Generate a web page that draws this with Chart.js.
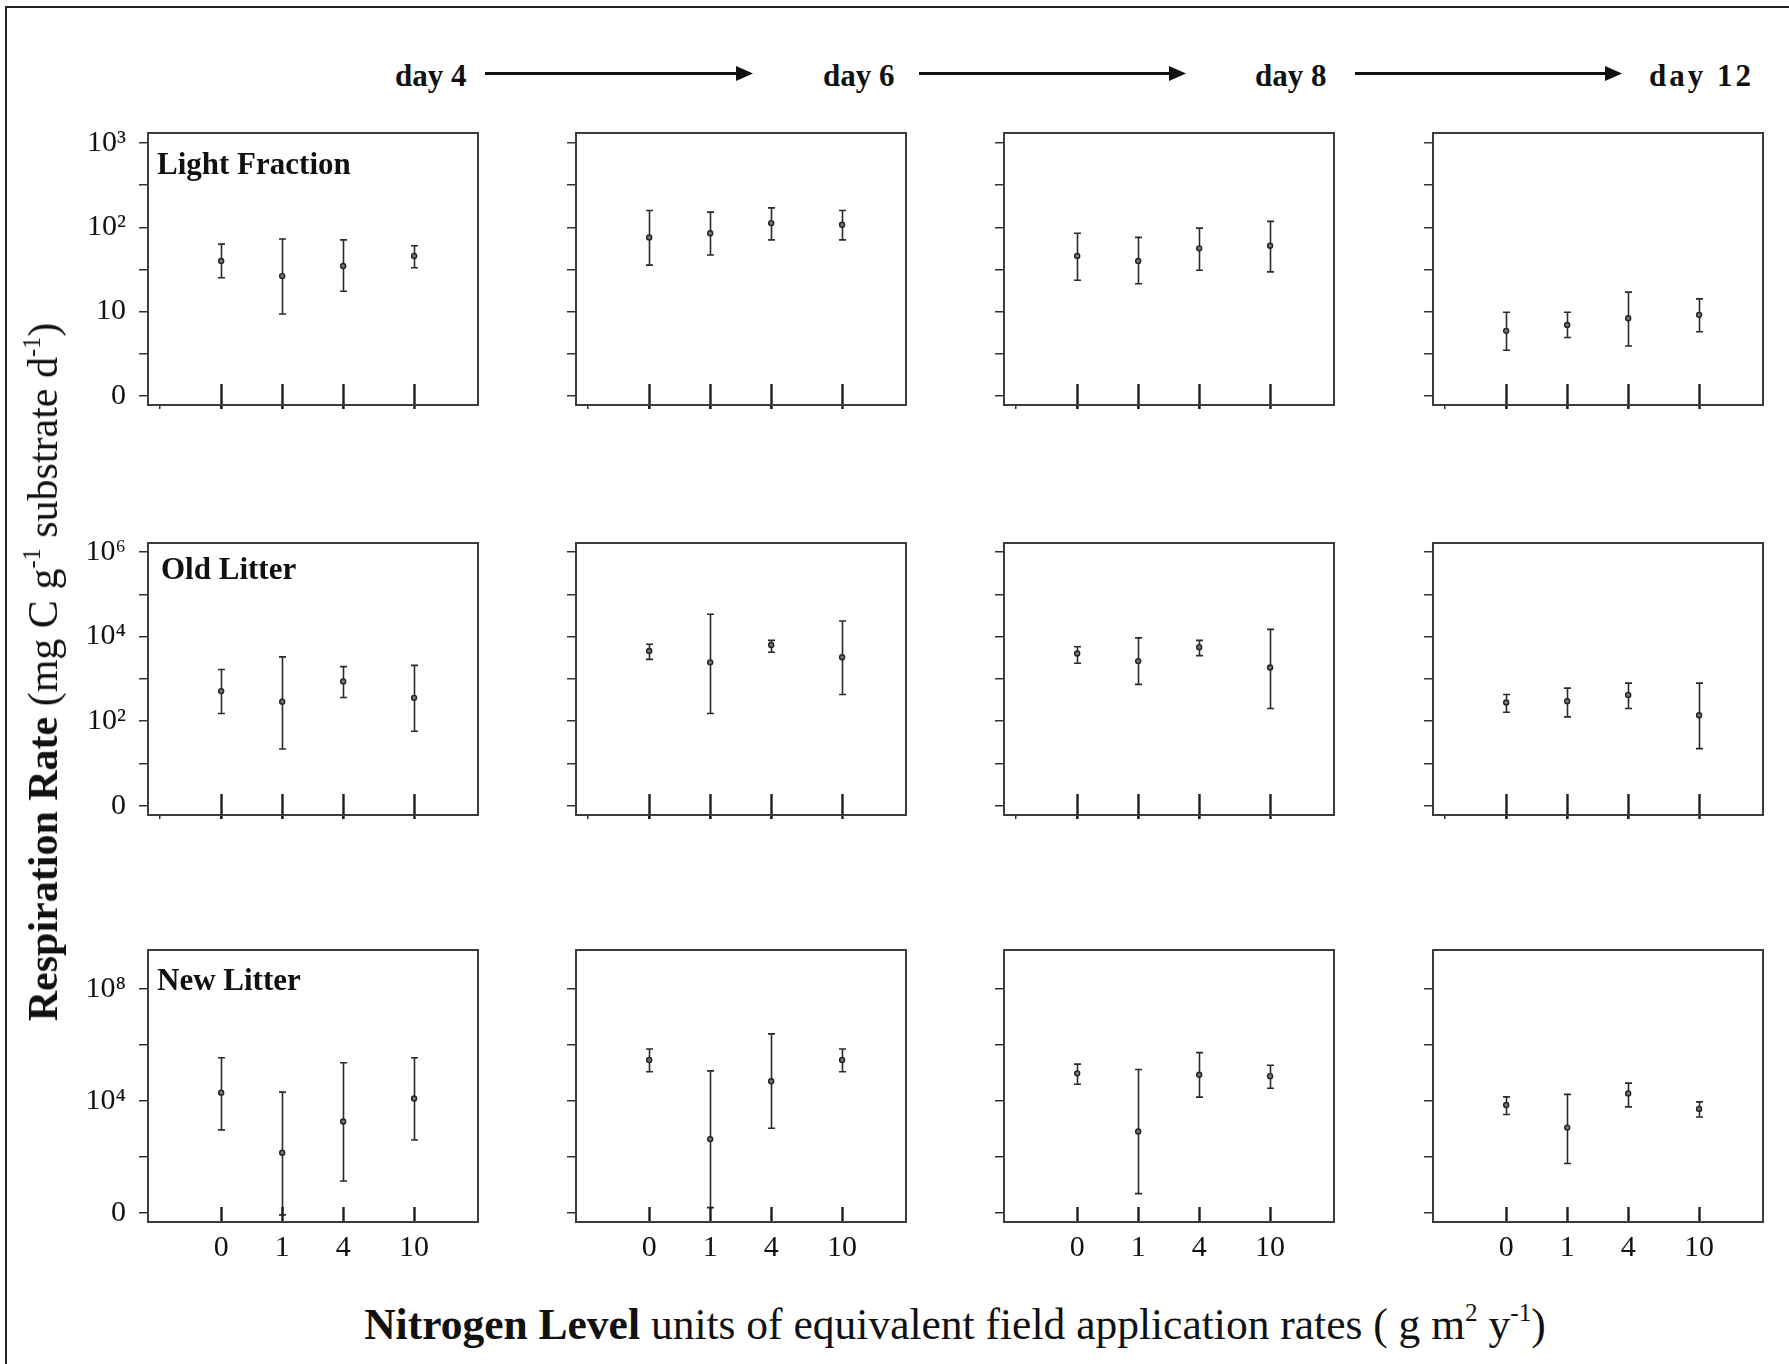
<!DOCTYPE html>
<html>
<head>
<meta charset="utf-8">
<script src="https://cdn.jsdelivr.net/npm/chart.js@4.4.1/dist/chart.umd.min.js"></script>
<style>
  html, body { margin:0; padding:0; background:#fff; }
  body { width:1789px; height:1364px; position:relative; overflow:hidden; font-family:'Liberation Serif', 'DejaVu Serif', serif; color:#111; }
  canvas { position:absolute; }
  .txt { position:absolute; white-space:nowrap; line-height:1; }
  .ptitle { font-weight:bold; font-size:31px; }
  .day { font-weight:bold; font-size:31px; }
  sup { font-size:58%; vertical-align:0.7em; line-height:0; }
</style>
</head>
<body>
<div style="position:absolute;left:5px;top:6px;width:1784px;height:1358px;border-left:2px solid #222;border-top:2px solid #222;"></div>
<svg id="arrows" width="1789" height="120" style="position:absolute;left:0;top:0"></svg>
<script>
// ---------------- DATA ----------------
const days = ['day 4', 'day 6', 'day 8', 'day 12'];
const nLevels = [0, 1, 4, 10];
const nLabels = ['0', '1', '4', '10'];
const fractions = ['Light Fraction', 'Old Litter', 'New Litter'];

// values in log10 units (one row per day, one column per N level)
const lightMean = [[1.60,1.42,1.54,1.66],[1.88,1.93,2.05,2.03],[1.66,1.60,1.75,1.78],[0.77,0.84,0.92,0.96]];
const lightLow  = [[1.40,0.97,1.24,1.52],[1.55,1.67,1.85,1.85],[1.37,1.33,1.49,1.47],[0.54,0.69,0.59,0.76]];
const lightHigh = [[1.80,1.86,1.85,1.78],[2.20,2.18,2.23,2.20],[1.93,1.88,1.99,2.07],[0.99,0.99,1.23,1.15]];

const oldMean = [[2.71,2.46,2.94,2.55],[3.66,3.39,3.80,3.51],[3.60,3.42,3.75,3.27],[2.44,2.47,2.62,2.14]];
const oldLow  = [[2.18,1.34,2.56,1.76],[3.46,2.18,3.63,2.63],[3.37,2.87,3.55,2.30],[2.21,2.10,2.30,1.35]];
const oldHigh = [[3.22,3.52,3.29,3.32],[3.82,4.53,3.91,4.37],[3.76,3.97,3.91,4.17],[2.63,2.78,2.90,2.90]];

const newMean = [[4.29,2.14,3.26,4.08],[5.46,2.63,4.70,5.46],[4.98,2.90,4.93,4.88],[3.85,3.04,4.26,3.71]];
const newLow  = [[2.96,-0.08,1.13,2.60],[5.04,0.18,3.02,5.04],[4.59,0.68,4.13,4.45],[3.51,1.76,3.78,3.42]];
const newHigh = [[5.54,4.31,5.36,5.54],[5.85,5.07,6.39,5.85],[5.31,5.12,5.72,5.27],[4.14,4.23,4.63,3.96]];

// y tick values (log10) and labels
const lightTicks = [0, 1, 2, 3];
const lightTickLabels = ['0', '10', '10\u00B2', '10\u00B3'];
const oldTicks = [0, 2, 4, 6];
const oldTickLabels = ['0', '10\u00B2', '10\u2074', '10\u2076'];
const newTicks = [0, 4, 8];
const newTickLabels = ['0', '10\u2074', '10\u2078'];

// ---------------- LAYOUT ----------------
const rowsData = [
  {mean: lightMean, low: lightLow, high: lightHigh, ticks: lightTicks, labels: lightTickLabels, yMin: -0.111, yMax: 3.12, tickIn: 21, tickOut: 4},
  {mean: oldMean, low: oldLow, high: oldHigh, ticks: oldTicks, labels: oldTickLabels, yMin: -0.221, yMax: 6.214, tickIn: 21, tickOut: 4},
  {mean: newMean, low: newLow, high: newHigh, ticks: newTicks, labels: newTickLabels, yMin: -0.334, yMax: 9.39, tickIn: 15, tickOut: 0}
];
const colLeft = [148, 576, 1004, 1433];
const rowTop = [133, 543, 950];
const W = 330, H = 272;
const PADL = 120, PADT = 14, PADR = 14, PADB = 60;

const panelPlugin = {
  id: 'panelDeco',
  beforeDatasetsDraw(chart) {
    const ds = chart.data.datasets[0];
    const {ctx, chartArea: a} = chart;
    const x = chart.scales.x, y = chart.scales.y;
    ctx.save();
    ctx.strokeStyle = '#2a2a2a';
    ctx.lineWidth = 1.6;
    ds.errLow.forEach((lo, i) => {
      const px = Math.round(x.getPixelForValue(Math.sqrt(nLevels[i]))) + 0.5;
      const yl = y.getPixelForValue(lo), yh = y.getPixelForValue(ds.errHigh[i]);
      ctx.beginPath();
      ctx.moveTo(px, yl); ctx.lineTo(px, yh);
      ctx.moveTo(px - 3.5, yl); ctx.lineTo(px + 3.5, yl);
      ctx.moveTo(px - 3.5, yh); ctx.lineTo(px + 3.5, yh);
      ctx.stroke();
    });
    ctx.lineWidth = 2.4;
    ctx.strokeStyle = '#1e1e1e';
    nLevels.forEach(l => {
      const px = Math.round(x.getPixelForValue(Math.sqrt(l))) + 0.5;
      ctx.beginPath();
      ctx.moveTo(px, a.bottom + ds.tickOut);
      ctx.lineTo(px, a.bottom - ds.tickIn);
      ctx.stroke();
    });
    ctx.restore();
  },
  afterDraw(chart) {
    const {ctx, chartArea: a} = chart;
    ctx.save();
    ctx.strokeStyle = '#3c3c3c';
    ctx.lineWidth = 2;
    ctx.strokeRect(a.left, a.top, a.right - a.left, a.bottom - a.top);
    ctx.restore();
  }
};

function zeroPad(s) { s.paddingLeft = 0; s.paddingRight = 0; s.paddingTop = 0; s.paddingBottom = 0; }

rowsData.forEach((rd, r) => {
  days.forEach((d, c) => {
    const cv = document.createElement('canvas');
    cv.width = PADL + W + PADR;
    cv.height = PADT + H + PADB;
    cv.style.left = (colLeft[c] - PADL) + 'px';
    cv.style.top = (rowTop[r] - PADT) + 'px';
    document.body.appendChild(cv);

    const majors = rd.ticks;
    const minors = majors.slice(0, -1).map((v, i) => (v + majors[i + 1]) / 2);
    const allY = majors.concat(minors).sort((a, b) => a - b);

    new Chart(cv, {
      type: 'scatter',
      data: {
        datasets: [{
          data: nLevels.map((l, i) => ({x: Math.sqrt(l), y: rd.mean[c][i]})),
          errLow: rd.low[c], errHigh: rd.high[c],
          tickIn: rd.tickIn, tickOut: rd.tickOut,
          pointStyle: 'circle', pointRadius: 2.5, pointBorderWidth: 1.4,
          pointBorderColor: '#222', pointBackgroundColor: '#777'
        }]
      },
      options: {
        responsive: false, animation: false, devicePixelRatio: 1,
        layout: {padding: {left: 0, top: PADT, right: PADR, bottom: 0}},
        plugins: {legend: {display: false}, tooltip: {enabled: false}},
        scales: {
          x: {
            type: 'linear', min: -1.2, max: 4.21,
            afterBuildTicks: s => {
              s.ticks = (r < 2 ? [-1, 0, 1, 2, 3, 4] : nLevels.map(l => Math.sqrt(l))).map(v => ({value: v}));
            },
            afterFit: s => { s.height = PADB; zeroPad(s); },
            border: {display: false},
            grid: r < 2
              ? {display: true, drawOnChartArea: false, drawTicks: true, tickLength: 4, color: '#333', lineWidth: 1.5}
              : {display: false, drawOnChartArea: false, drawTicks: false},
            ticks: {
              display: r === 2, autoSkip: false, maxRotation: 0, padding: 8,
              color: '#111', font: {family: 'Liberation Serif', size: 30},
              callback: (v, i) => nLabels[i]
            }
          },
          y: {
            type: 'linear', min: rd.yMin, max: rd.yMax,
            afterBuildTicks: s => { s.ticks = allY.map(v => ({value: v})); },
            afterFit: s => { s.width = PADL; zeroPad(s); },
            border: {display: false},
            grid: {display: true, drawOnChartArea: false, drawTicks: true, tickLength: 9, color: '#333', lineWidth: 1.5},
            ticks: {
              display: c === 0, autoSkip: false, padding: 13,
              color: '#111', font: {family: 'Liberation Serif', size: 30},
              callback: v => { const k = majors.indexOf(v); return k >= 0 ? rd.labels[k] : ''; }
            }
          }
        }
      },
      plugins: [panelPlugin]
    });
  });
});

// panel titles
const titleTops = [148, 553, 964];
const titleLefts = [157, 161, 157];
fractions.forEach((f, r) => {
  const el = document.createElement('div');
  el.className = 'txt ptitle';
  el.textContent = f;
  el.style.left = titleLefts[r] + 'px';
  el.style.top = titleTops[r] + 'px';
  document.body.appendChild(el);
});

// day labels and arrows
const dayLefts = [395, 823, 1255, 1649];
days.forEach((d, i) => {
  const el = document.createElement('div');
  el.className = 'txt day';
  el.textContent = d;
  el.style.left = dayLefts[i] + 'px';
  el.style.top = '60px';
  if (i === 3) el.style.letterSpacing = '3px';
  document.body.appendChild(el);
});
const arrowSpans = [[485, 753], [919, 1186], [1355, 1622]];
const svg = document.getElementById('arrows');
let svgHtml = '';
arrowSpans.forEach(([a, b]) => {
  const yy = 73.5;
  svgHtml += `<line x1="${a}" y1="${yy}" x2="${b - 14}" y2="${yy}" stroke="#111" stroke-width="3"/>`;
  svgHtml += `<polygon points="${b - 17},${yy - 7.5} ${b},${yy} ${b - 17},${yy + 7.5}" fill="#111"/>`;
});
svg.innerHTML = svgHtml;
</script>
<div class="txt" style="left:43px;top:672px;font-size:42px;transform:translate(-50%,-50%) rotate(-90deg);"><b>Respiration Rate</b> (mg C g<sup>-1</sup> substrate d<sup>-1</sup>)</div>
<div class="txt" style="left:955px;top:1303px;font-size:43.5px;transform:translateX(-50%);"><b>Nitrogen Level</b> units of equivalent field application rates ( g m<sup>2</sup> y<sup>-1</sup>)</div>
</body>
</html>
